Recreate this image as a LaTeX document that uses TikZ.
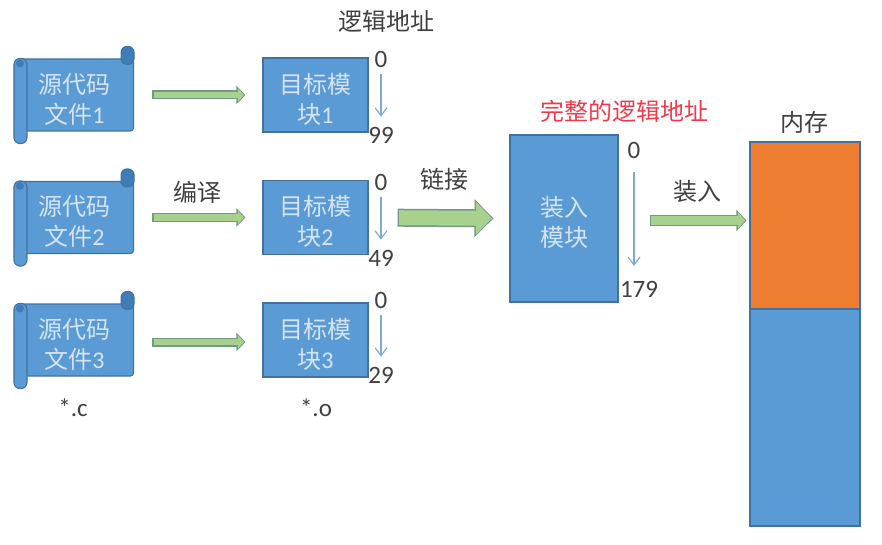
\documentclass[tikz,border=0pt]{standalone}
\usepackage{fontspec}
\setmainfont{Carlito}
\newfontfamily\cjk{Noto Sans CJK SC}
\usetikzlibrary{arrows.meta}
\definecolor{boxblue}{HTML}{5B9BD5}
\definecolor{boxedge}{HTML}{41719C}
\definecolor{curlblue}{HTML}{3F7CB8}
\definecolor{boxorange}{HTML}{ED7D31}
\definecolor{arrowgreen}{HTML}{A9D18E}
\definecolor{arrowedge}{HTML}{6F9A86}
\definecolor{thinblue}{HTML}{7FAAD5}
\definecolor{boxtext}{HTML}{D5E4F3}
\definecolor{darktext}{HTML}{404040}
\definecolor{redtext}{HTML}{EE3B4A}
\newcommand{\boxlines}[2]{\rule{0pt}{28pt}#1\\#2}
\begin{document}
\begin{tikzpicture}[x=1pt,y=-1pt,node distance=122.5pt,
    font=\fontsize{24}{30}\selectfont\cjk,
    source/.style={
        rectangle,
        rounded corners=3pt,
        fill=boxblue,
        draw=boxedge, line width=1.1pt,
        text=boxtext,
        align=center,
        inner sep=0pt,
        minimum width=118pt,
        minimum height=72pt},
    module/.style={
        source,
        rounded corners=0pt,
        minimum width=105pt,
        minimum height=74pt},
    curl/.style={
        fill=boxblue,
        draw=boxedge, line width=1.1pt,
        rounded corners=6pt},
    curltop/.style={
        curl,
        fill=curlblue},
    number/.style={
        text=darktext,
        inner sep=0pt,
        font=\fontsize{25}{25}\selectfont\rmfamily},
    caption/.style={
        text=darktext,
        inner sep=0pt},
    address/.style={
        thinblue,
        line width=1.2pt,
        -{Straight Barb[length=8pt,width=12pt]}},
    greenarrow/.style n args={5}{
        arrowgreen,
        line width=#1pt-3pt,
        shorten <=#4pt+1.5pt,
        shorten >=#5pt+1.5pt,
        -{Triangle[length=#2pt-3pt,width=#3pt-5pt]},
        preaction={
            draw=arrowedge,
            line width=#1pt,
            shorten <=#4pt,
            shorten >=#5pt,
            -{Triangle[length=#2pt,width=#3pt]}}}
    ]

    \useasboundingbox (0,0) rectangle (882,545);

    \node (src1) [source] at (74.5,95) {\boxlines{源代码}{文件{\rmfamily 1}}};
    \node (src2) [source, below of=src1] {\boxlines{源代码}{文件{\rmfamily 2}}};
    \node (src3) [source, below of=src2] {\boxlines{源代码}{文件{\rmfamily 3}}};

    % the rolled edges of the scrolls
    \foreach \scroll in {src1,src2,src3} {
        \draw [curltop] ([xshift=-13pt,yshift=12pt]\scroll.north east) rectangle ([yshift=-6pt]\scroll.north east);
        \draw [curl] ([xshift=-1pt]\scroll.north west) rectangle ([xshift=12pt,yshift=-12pt]\scroll.south west);
        \fill [curlblue] ([xshift=5pt,yshift=-5pt]\scroll.north west) circle (4pt);
    }

    \node (mod1) [module, right of=src1, node distance=241pt] {\boxlines{目标模}{块{\rmfamily 1}}};
    \node (mod2) [module, right of=src2, node distance=241pt] {\boxlines{目标模}{块{\rmfamily 2}}};
    \node (mod3) [module, right of=src3, node distance=241pt] {\boxlines{目标模}{块{\rmfamily 3}}};

    \node (load) [module, minimum width=108pt, minimum height=167pt] at (564,218.5) {\boxlines{装入}{模块}};
    \node (memused) [module, fill=boxorange, minimum width=110pt, minimum height=167pt] at (805,225.5) {};
    \node (memfree) [module, minimum width=110pt, minimum height=217pt] at (805,417.5) {};

    \node (start1) [number] at (381,59) {0};
    \node (end1) [number] at (381,135) {99};
    \node (start2) [number] at (381,182) {0};
    \node (end2) [number] at (381,258) {49};
    \node (start3) [number] at (381,300) {0};
    \node (end3) [number] at (381,375) {29};
    \node (start4) [number] at (634,150) {0};
    \node (end4) [number] at (639,289) {179};

    \node (logical) [caption] at (386,21) {逻辑地址};
    \node (compile) [caption] at (197,192) {编译};
    \node (link) [caption] at (444,179) {链接};
    \node (complete) [caption, text=redtext] at (624,111) {完整的逻辑地址};
    \node (loading) [caption] at (697,191) {装入};
    \node (memory) [caption] at (804,122) {内存};
    \node (extc) [number] at (73,408) {*.c};
    \node (exto) [number] at (316,408) {*.o};

    \draw [greenarrow={9}{9}{18}{18}{17}] (src1) -- (mod1);
    \draw [greenarrow={9}{9}{18}{18}{17}] (src2) -- (mod2);
    \draw [greenarrow={9}{9}{18}{18}{17}] ([yshift=-2pt]src3.east) -- ([yshift=-2pt]mod3.west);
    \draw [greenarrow={18}{19}{37}{29}{16}] (mod2.east) -- (load.west);
    \draw [greenarrow={11}{10}{21}{31}{3}] ([yshift=-2pt]load.east) -- ([yshift=-2pt]load.east -| memused.west);

    \draw [address, shorten <=7pt, shorten >=10pt] (start1) -- (end1);
    \draw [address, shorten <=7pt, shorten >=10pt] (start2) -- (end2);
    \draw [address, shorten <=7pt, shorten >=10pt] (start3) -- (end3);
    \draw [address, shorten <=14pt, shorten >=23pt] (start4) -- (start4 |- end4);

\end{tikzpicture}
\end{document}
